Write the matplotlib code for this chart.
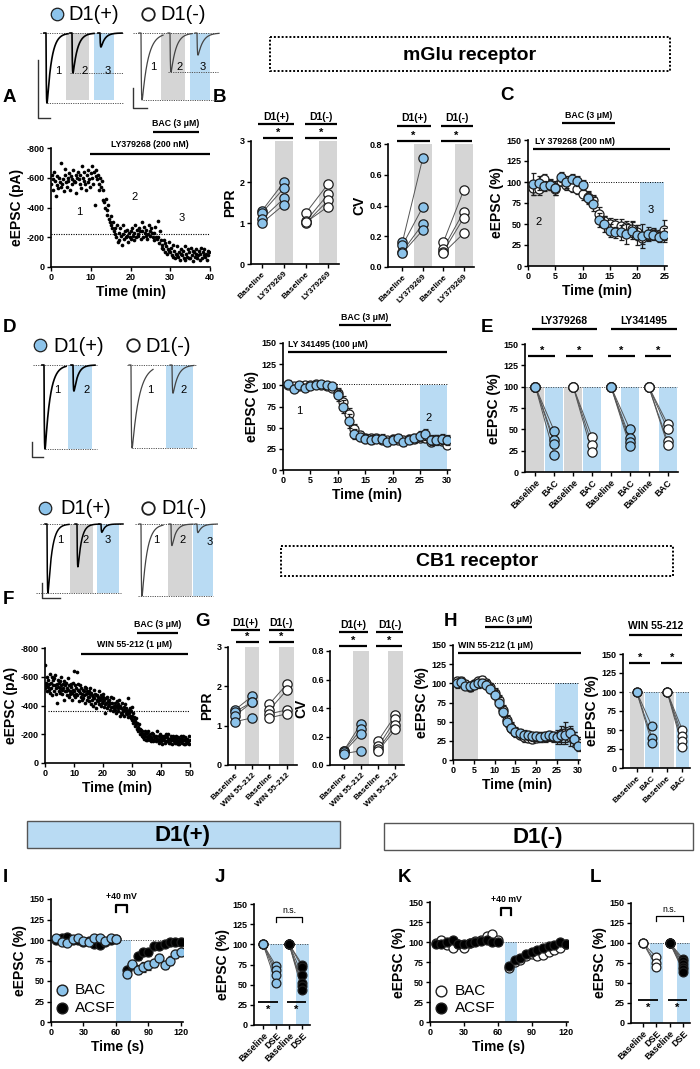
import numpy as np
import matplotlib
matplotlib.use("Agg")
import matplotlib.pyplot as plt
from matplotlib.patches import Rectangle

plt.rcParams['font.family'] = ['Liberation Sans', 'DejaVu Sans']
plt.rcParams['font.weight'] = 'bold'
plt.rcParams['axes.labelweight'] = 'bold'
plt.rcParams['axes.unicode_minus'] = False

BLUE = '#8cc3ea'
BAND_BLUE = '#b9dbf3'
BAND_GRAY = '#d5d5d5'
EDGE = '#1e1e1e'

# ======================= DATA =======================
# Panel A: eEPSC amplitude (pA), 5 samples per minute
A_step = 0.2
A_amp = [560, 620, 590, 520, 640, 580, 480, 550, 610, 530, 600, 570, 700, 540, 560,
         590, 510, 620, 660, 570, 540, 600, 580, 630, 520, 610, 560, 590, 650, 580,
         570, 620, 500, 600, 640, 590, 560, 620, 530, 680, 600, 580, 640, 560, 520,
         620, 570, 650, 590, 540, 630, 680, 600, 560, 640, 420, 610, 650, 590, 620,
         560, 520, 600, 540, 580, 450, 520, 440, 400, 460, 380, 350, 420, 320, 300,
         280, 340, 260, 300, 240, 260, 220, 200, 280, 170, 230, 180, 260, 210, 150,
         220, 280, 190, 240, 200, 250, 210, 170, 230, 200, 190, 240, 260, 210, 180,
         230, 280, 200, 250, 220, 210, 260, 240, 190, 300, 240, 200, 270, 230, 210,
         250, 190, 220, 280, 240, 210, 260, 230, 200, 180, 230, 270, 200, 190, 310,
         200, 160, 240, 180, 130, 150, 120, 180, 100, 160, 140, 90, 120, 170, 110,
         100, 130, 80, 150, 70, 110, 60, 90, 140, 80, 70, 100, 50, 120, 90,
         80, 110, 60, 140, 50, 90, 70, 120, 60, 100, 60, 130, 80, 40, 110,
         100, 70, 90, 120, 60, 80, 110, 50, 90, 130, 60, 100, 80, 120, 70,
         90, 50, 110, 80, 100]
A_dotted = 220

# Panel B: PPR and CV
B_cats = ['Baseline', 'LY379269', 'Baseline', 'LY379269']
B_ppr_pos_base = [1.30, 1.25, 1.10, 1.00]
B_ppr_pos_ly = [2.00, 1.85, 1.60, 1.45]
B_ppr_neg_base = [1.25, 1.05, 1.00, 1.02]
B_ppr_neg_ly = [1.95, 1.70, 1.55, 1.40]
B_cv_pos_base = [0.16, 0.14, 0.10, 0.09]
B_cv_pos_ly = [0.71, 0.39, 0.28, 0.24]
B_cv_neg_base = [0.16, 0.12, 0.10, 0.09]
B_cv_neg_ly = [0.50, 0.36, 0.32, 0.22]

# Panel C: time course (%)
C_time = list(range(1, 26))
C_pos = [98, 99, 95, 97, 93, 106, 100, 104, 101, 96, 81, 74, 55, 50, 42, 40, 40, 38, 42, 37, 36, 38, 37, 35, 37]
C_pos_err = [13, 8, 6, 7, 8, 6, 7, 5, 6, 6, 7, 8, 8, 9, 8, 7, 9, 12, 10, 12, 14, 8, 6, 6, 8]
C_neg = [93, 92, 103, 96, 92, 101, 96, 94, 92, 86, 82, 78, 62, 53, 50, 49, 48, 46, 44, 40, 33, 37, 39, 37, 43]
C_neg_err = [8, 7, 6, 6, 7, 6, 6, 6, 6, 7, 7, 7, 8, 7, 7, 7, 8, 8, 9, 9, 7, 6, 6, 6, 12]

# Panel D: time course (%)
D_time = list(range(1, 31))
D_pos = [102, 96, 100, 97, 99, 100, 102, 100, 99, 88, 75, 58, 43, 39, 37, 36, 37, 37, 33, 36,
         38, 33, 36, 38, 40, 42, 35, 35, 37, 35]
D_pos_err = [4, 4, 3, 4, 3, 3, 3, 3, 4, 6, 8, 8, 6, 5, 5, 5, 4, 5, 5, 5, 5, 5, 5, 5, 6, 6, 6, 6, 6, 6]
D_neg = [100, 99, 99, 100, 100, 101, 100, 99, 97, 91, 80, 66, 48, 41, 38, 38, 38, 36, 35, 37,
         36, 36, 37, 37, 38, 38, 33, 36, 34, 30]
D_neg_err = [3, 3, 3, 3, 3, 3, 3, 3, 4, 6, 7, 7, 6, 5, 5, 4, 4, 4, 4, 4, 4, 4, 4, 5, 5, 5, 5, 5, 5, 4]

# Panel E: paired (%)
E_cats = ['Baseline', 'BAC'] * 4
E_groups = ['LY379268', 'LY341495']
E_ly379_pos = [48, 37, 33, 20]
E_ly379_neg = [41, 32, 23]
E_ly341_pos = [50, 40, 35, 30]
E_ly341_neg = [56, 50, 36, 32]

# Panel F: eEPSC amplitude (pA), 6 samples per minute
F_step = 1.0 / 6
F_amp = [680, 520, 560, 540, 500, 600, 530, 580, 510, 550, 490, 620, 560, 520, 600, 470, 540, 580,
         500, 590, 540, 610, 520, 480, 550, 420, 530, 580, 500, 560, 520, 570, 490, 540, 600, 510,
         480, 550, 520, 440, 570, 500, 540, 500, 560, 470, 520, 590, 510, 460, 540, 500, 480, 550,
         530, 490, 440, 560, 510, 470, 640, 500, 540, 460, 520, 480, 630, 470, 510, 550, 430, 500,
         490, 540, 460, 520, 480, 440, 510, 450, 500, 470, 530, 420, 480, 520, 440, 500, 460, 490,
         460, 500, 430, 480, 520, 410, 490, 440, 470, 400, 460, 510, 450, 480, 420, 470, 380, 440,
         470, 430, 460, 500, 410, 450, 440, 400, 470, 420, 450, 480, 430, 460, 390, 440, 410, 350,
         450, 420, 380, 460, 400, 430, 410, 440, 370, 420, 390, 460, 390, 420, 450, 360, 400, 380,
         420, 370, 400, 350, 430, 390, 380, 410, 360, 440, 390, 330, 400, 350, 380, 420, 340, 370,
         360, 390, 330, 410, 370, 350, 380, 340, 360, 450, 320, 370, 350, 380, 330, 360, 310, 390,
         330, 300, 350, 280, 320, 300, 290, 260, 310, 270, 240, 280, 250, 220, 270, 230, 200, 240,
         210, 230, 190, 220, 180, 200, 200, 170, 220, 190, 160, 210, 180, 210, 160, 190, 220, 170,
         190, 160, 200, 150, 180, 210, 170, 200, 150, 190, 160, 180, 180, 150, 190, 170, 220, 160,
         160, 190, 140, 180, 200, 170, 170, 150, 190, 130, 180, 160, 190, 160, 140, 180, 150, 200,
         150, 180, 160, 200, 140, 170, 170, 140, 190, 160, 180, 130, 160, 190, 150, 170, 140, 180,
         140, 170, 190, 150, 160, 130, 180, 150, 130, 170, 160, 190, 150, 170, 140, 160, 190, 130,
         160, 130, 180, 150, 170, 140, 170, 150, 140, 190, 130, 160]
F_dotted = 365

# Panel G: PPR and CV
G_cats = ['Baseline', 'WIN 55-212', 'Baseline', 'WIN 55-212']
G_ppr_pos_base = [1.40, 1.35, 1.25, 1.10]
G_ppr_pos_win = [1.75, 1.60, 1.60, 1.20]
G_ppr_neg_base = [1.55, 1.40, 1.30, 1.20]
G_ppr_neg_win = [2.05, 1.90, 1.40, 1.30]
G_cv_pos_base = [0.10, 0.10, 0.09, 0.08]
G_cv_pos_win = [0.29, 0.25, 0.22, 0.10]
G_cv_neg_base = [0.17, 0.13, 0.11, 0.10]
G_cv_neg_win = [0.35, 0.32, 0.28, 0.25]

# Panel H: time course (%) and paired
H_time = list(range(1, 31))
H_pos = [100, 102, 97, 96, 98, 100, 101, 98, 93, 85, 75, 63, 50, 42, 37, 35, 33, 32, 31, 31,
         30, 31, 32, 31, 30, 32, 33, 35, 28, 18]
H_pos_err = [6, 5, 5, 6, 6, 6, 5, 6, 6, 6, 7, 7, 7, 6, 6, 6, 6, 6, 6, 6, 6, 6, 6, 6, 7, 9, 10, 9, 8, 6]
H_neg = [103, 103, 99, 95, 99, 103, 104, 100, 95, 88, 78, 65, 52, 42, 36, 33, 30, 29, 28, 29,
         30, 30, 31, 30, 30, 33, 35, 30, 27, 22]
H_neg_err = [5, 5, 5, 5, 5, 5, 6, 6, 6, 6, 7, 7, 7, 7, 6, 6, 6, 6, 6, 6, 6, 6, 6, 7, 9, 12, 14, 12, 10, 8]
H_cats = ['Baseline', 'BAC', 'Baseline', 'BAC']
H_win_pos = [55, 40, 33]
H_win_neg = [50, 42, 35, 28]

# Panels I, K: DSE time course (%)
IK_time = [5, 10, 15, 20, 25, 30, 35, 40, 45, 50, 55, 60, 70, 75, 80, 85, 90, 95, 100, 105, 110, 115, 120]
I_bac = [102, 98, 96, 101, 102, 99, 97, 103, 103, 99, 102, 101, 58, 71, 64, 67, 69, 72, 78, 70, 75, 83, 85]
I_bac_err = [2, 2, 2, 2, 2, 2, 2, 2, 2, 2, 2, 2, 4, 5, 5, 6, 6, 5, 5, 5, 5, 5, 5]
I_acsf = [100, 103, 104, 100, 100, 98, 99, 95, 94, 97, 100, 101, 64, 70, 80, 85, 85, 93, 93, 95, 97, 97, 98]
I_acsf_err = [2, 2, 2, 2, 2, 2, 2, 2, 2, 2, 2, 2, 4, 4, 4, 4, 4, 4, 4, 4, 4, 4, 4]
K_bac = [99, 103, 96, 93, 98, 93, 99, 101, 103, 108, 110, 103, 67, 75, 78, 83, 85, 83, 84, 88, 90, 93, 97]
K_acsf = [97, 98, 100, 102, 98, 97, 99, 100, 101, 103, 100, 100, 70, 78, 80, 85, 88, 90, 92, 95, 96, 100, 97]
K_err = [2, 2, 2, 2, 2, 2, 2, 2, 2, 2, 2, 2, 3, 3, 3, 3, 3, 3, 3, 3, 3, 3, 3]

# Panels J, L: paired DSE (%)
JL_cats = ['Baseline', 'DSE', 'Baseline', 'DSE']
J_bac = [73, 68, 62, 52]
J_acsf = [75, 72, 62, 52, 48, 43]
L_bac = [82, 75, 70]
L_acsf = [80, 77, 74, 70, 67, 64]

# Example traces: relative peak amplitudes of averaged EPSCs (1, 2, 3)
TR_mglu_pos = [1.00, 0.57, 0.20]
TR_mglu_neg = [1.00, 0.58, 0.33]
TR_ly341_pos = [1.00, 0.31]
TR_ly341_neg = [1.00, 0.34]
TR_cb1_pos = [1.00, 0.62, 0.12]
TR_cb1_neg = [1.00, 0.30, 0.12]

# ======================= FIGURE =======================
W, H = 700, 1069
fig = plt.figure(figsize=(W / 100, H / 100), dpi=100)

ov = fig.add_axes([0, 0, 1, 1])
ov.set_xlim(0, W)
ov.set_ylim(H, 0)
ov.axis('off')


def axpx(l, t, r, b):
    ax = fig.add_axes([l / W, 1 - b / H, (r - l) / W, (b - t) / H])
    ax.set_facecolor('none')
    for s in ('top', 'right'):
        ax.spines[s].set_visible(False)
    for s in ('left', 'bottom'):
        ax.spines[s].set_linewidth(1.2)
    ax.tick_params(direction='out', length=3, width=1.0, labelsize=6.5, pad=1.5)
    return ax


def timecourse(ax, t, v, e, face, z):
    ax.errorbar(t, v, yerr=e, fmt='none', ecolor=EDGE, elinewidth=0.9, capsize=1.8,
                capthick=0.9, zorder=z)
    ax.scatter(t, v, s=42, facecolor=face, edgecolor=EDGE, linewidth=0.9, zorder=z + 0.5)


def paired(ax, x0, x1, base, post, face, s=45):
    for b, p in zip(base, post):
        ax.plot([x0, x1], [b, p], color='#555555', lw=0.7, zorder=3)
    ax.scatter([x0] * len(base), base, s=s, facecolor=face, edgecolor=EDGE, lw=0.9, zorder=4,
               clip_on=False)
    ax.scatter([x1] * len(post), post, s=s, facecolor=face, edgecolor=EDGE, lw=0.9, zorder=4,
               clip_on=False)


def sigbar(ax, xa, xb, y, dy, star_below=False, lw=1.6):
    ax.plot([xa, xb], [y, y], color='k', lw=lw, clip_on=False, solid_capstyle='butt')
    if star_below:
        ax.text((xa + xb) / 2, y - dy, '*', ha='center', va='top', fontsize=8, clip_on=False)
    else:
        ax.text((xa + xb) / 2, y + dy * 0.1, '*', ha='center', va='bottom', fontsize=8,
                clip_on=False)


def header(ax, xa, xb, y_line, y_text, txt, fs=7.5):
    ax.plot([xa, xb], [y_line, y_line], color='k', lw=1.6, clip_on=False, solid_capstyle='butt')
    ax.text((xa + xb) / 2, y_text, txt, ha='center', va='bottom', fontsize=fs, clip_on=False)


def drugbar(ax, xa, xb, y, txt, ytxt, ha='center', xt=None):
    ax.plot([xa, xb], [y, y], color='k', lw=1.6, clip_on=False, solid_capstyle='butt')
    ax.text((xa + xb) / 2 if xt is None else xt, ytxt, txt, ha=ha, va='bottom', fontsize=6.3,
            clip_on=False)


def cat_axis(ax, cats, fs=6.0):
    ax.set_xticks(range(len(cats)))
    ax.set_xticklabels(cats, rotation=45, ha='right', rotation_mode='anchor', fontsize=fs)


def epsc(tt, tau_r, tau_d):
    y = np.exp(-tt / tau_d) - np.exp(-tt / tau_r)
    return y / y.max()


def trace_group(box, base_px, peak_px, starts, amps, taus, bands, dotted, labels, sbar, color, lw):
    l, t, r, b = box
    ax = fig.add_axes([l / W, 1 - b / H, (r - l) / W, (b - t) / H])
    ax.axis('off')
    sc = float(peak_px - base_px)
    ax.set_xlim(l, r)
    ax.set_ylim(-(b - base_px) / sc, (base_px - t) / sc)
    for (x0, x1, c, ybot) in bands:
        ax.add_patch(Rectangle((x0, -(ybot - base_px) / sc), x1 - x0, (ybot - base_px) / sc,
                               facecolor=c, edgecolor='none', zorder=1))
    for (x0, x1, ypx) in dotted:
        lev = -(ypx - base_px) / sc
        ax.plot([x0, x1], [lev, lev], ls=(0, (1.2, 1.2)), color='#555555', lw=0.7, zorder=2)
    for x0, a, tau in zip(starts, amps, taus):
        tt = np.linspace(0, 22, 300)
        y = -a * epsc(tt, 0.35, tau)
        ax.plot(np.concatenate([[x0 - 2], x0 + tt]), np.concatenate([[0], y]),
                color=color, lw=lw, zorder=3)
    for (x, ypx, s) in labels:
        ax.text(x, -(ypx - base_px) / sc, s, fontsize=8, fontweight='normal',
                ha='center', va='center', zorder=4)
    if sbar is not None:
        xs, y0, y1, x1 = sbar
        ax.plot([xs, xs, x1], [-(y0 - base_px) / sc, -(y1 - base_px) / sc, -(y1 - base_px) / sc],
                color='#333333', lw=1.0)
    return ax


# ---------------- overlay: legends, letters, boxes ----------------
def legend_pair(y, xb, xtb, xo, xto):
    ov.plot(xb, y, 'o', ms=9, mfc=BLUE, mec=EDGE, mew=0.9)
    ov.text(xtb, y + 1, 'D1(+)', fontsize=14.5, fontweight='normal', va='center', ha='left')
    ov.plot(xo, y, 'o', ms=9, mfc='white', mec=EDGE, mew=1.3)
    ov.text(xto, y + 1, 'D1(-)', fontsize=14.5, fontweight='normal', va='center', ha='left')


legend_pair(14, 57, 68, 148, 160)
legend_pair(345, 40, 53, 133, 145)
legend_pair(508, 45, 60, 148, 161)

for lt, (x, y) in {'A': (3, 97), 'B': (213, 97), 'C': (500, 95), 'D': (3, 328), 'E': (481, 328),
                   'F': (3, 600), 'G': (195, 622), 'H': (444, 622), 'I': (3, 877), 'J': (215, 877),
                   'K': (398, 877), 'L': (590, 877)}.items():
    ov.text(x, y, lt, fontsize=13.5, fontweight='bold', va='center', ha='left')

ov.add_patch(Rectangle((270, 37), 400, 34, fill=False, lw=1.4, ls=(0, (1, 1)), edgecolor='k'))
ov.text(470, 55, 'mGlu receptor', fontsize=14, ha='center', va='center')
ov.add_patch(Rectangle((281, 546), 392, 30, fill=False, lw=1.4, ls=(0, (1, 1)), edgecolor='k'))
ov.text(477, 562, 'CB1 receptor', fontsize=14, ha='center', va='center')
ov.add_patch(Rectangle((27, 821), 313, 27, facecolor=BAND_BLUE, lw=1.0, edgecolor='#555555'))
ov.text(183, 835, 'D1(+)', fontsize=16, ha='center', va='center')
ov.add_patch(Rectangle((384, 823), 309, 27, facecolor='white', lw=1.0, edgecolor='#555555'))
ov.text(538, 837, 'D1(-)', fontsize=16, ha='center', va='center')

# ---------------- example traces ----------------
trace_group((30, 25, 126, 122), 33, 103, [46, 72, 100], TR_mglu_pos, [4.5, 4.5, 4.0],
            [(66, 89, BAND_GRAY, 100), (94, 114, BAND_BLUE, 100)],
            [(40, 123, 33), (70, 123, 73), (47, 123, 103)],
            [(58, 71, '1'), (85, 71, '2'), (108, 71, '3')], (38, 60, 118, 50), 'black', 1.2)
trace_group((126, 25, 222, 122), 33, 100, [141, 170, 197], TR_mglu_neg, [6, 5, 5],
            [(161, 185, BAND_GRAY, 100), (190, 210, BAND_BLUE, 100)],
            [(133, 218, 33), (168, 218, 72), (143, 218, 100)],
            [(153, 67, '1'), (180, 67, '2'), (203, 67, '3')], (133, 88, 108, 147), '#444444', 0.9)
trace_group((28, 358, 100, 460), 365, 449, [44, 73], TR_ly341_pos, [5, 4],
            [(68, 92, BAND_BLUE, 449)], [(33, 97, 365), (45, 97, 449)],
            [(57, 390, '1'), (87, 390, '2')], (32, 442, 457, 43), 'black', 1.2)
trace_group((120, 358, 200, 460), 365, 448, [131, 172], TR_ly341_neg, [7, 5],
            [(166, 193, BAND_BLUE, 448)], [(127, 197, 365), (132, 197, 448)],
            [(150, 390, '1'), (184, 390, '2')], None, '#444444', 0.9)
trace_group((28, 518, 125, 602), 524, 593, [47, 77, 101], TR_cb1_pos, [4, 3.5, 3],
            [(70, 93, BAND_GRAY, 593), (97, 119, BAND_BLUE, 593)],
            [(40, 121, 524), (36, 121, 593)],
            [(60, 540, '1'), (86, 540, '2'), (108, 540, '3')], (42, 583, 598, 60), 'black', 1.1)
trace_group((125, 518, 218, 602), 524, 596, [141, 171, 197], TR_cb1_neg, [5, 4, 4],
            [(168, 192, BAND_GRAY, 596), (193, 213, BAND_BLUE, 596)],
            [(135, 215, 524), (138, 213, 596)],
            [(156, 540, '1'), (183, 540, '2'), (210, 542, '3')], None, '#444444', 0.9)

# ---------------- Panel A ----------------
axA = axpx(51, 148, 210, 267)
A_time = np.arange(len(A_amp)) * A_step
axA.scatter(A_time, -np.array(A_amp), s=7, color='black', linewidths=0, zorder=3)
axA.set_xlim(0, 40)
axA.set_ylim(0, -800)
axA.set_yticks([0, -200, -400, -600, -800])
axA.set_xticks([0, 10, 20, 30, 40])
axA.hlines(-A_dotted, 0, 40, colors='k', linestyles=(0, (1, 1.2)), lw=0.8)
axA.set_ylabel('eEPSC (pA)', fontsize=10, labelpad=2)
axA.set_xlabel('Time (min)', fontsize=10, labelpad=2)
drugbar(axA, 9.8, 40, -759, 'LY379268 (200 nM)', -790)
drugbar(axA, 25.7, 37.2, -907, 'BAC (3 μM)', -935)
for x, y, s in [(7, -370, '1'), (21, -470, '2'), (33, -330, '3')]:
    axA.text(x, y, s, fontsize=8, fontweight='normal', ha='center', va='center')

# ---------------- Panel B ----------------
def ppr_cv(box_ppr, box_cv, cats, ppr, cv, xl_ppr, xl_cv, y_hdr_ppr, y_hdr_cv):
    axp = axpx(*box_ppr)
    for x in (1, 3):
        axp.axvspan(x - 0.42, x + 0.42, color=BAND_GRAY, lw=0, zorder=0)
    paired(axp, 0, 1, ppr[0], ppr[1], BLUE)
    paired(axp, 2, 3, ppr[2], ppr[3], 'white')
    axp.set_xlim(*xl_ppr)
    axp.set_ylim(0, 3)
    axp.set_yticks([0, 1, 2, 3])
    axp.set_ylabel('PPR', fontsize=10, labelpad=2)
    cat_axis(axp, cats)
    h = y_hdr_ppr
    sigbar(axp, 0.05, 1.42, h[0], 0.02)
    sigbar(axp, 1.95, 3.42, h[0], 0.02)
    header(axp, -0.2, 1.45, h[1], h[2], 'D1(+)')
    header(axp, 1.95, 3.42, h[1], h[2], 'D1(-)')

    axc = axpx(*box_cv)
    for x in (1, 3):
        axc.axvspan(x - 0.44, x + 0.44, color=BAND_GRAY, lw=0, zorder=0)
    paired(axc, 0, 1, cv[0], cv[1], BLUE)
    paired(axc, 2, 3, cv[2], cv[3], 'white')
    axc.set_xlim(*xl_cv)
    axc.set_ylim(0, 0.8)
    axc.set_yticks([0, 0.2, 0.4, 0.6, 0.8])
    axc.set_yticklabels(['0.0', '0.2', '0.4', '0.6', '0.8'])
    axc.set_ylabel('CV', fontsize=10, labelpad=2)
    cat_axis(axc, cats)
    h = y_hdr_cv
    sigbar(axc, -0.25, 1.35, h[0], 0.01)
    sigbar(axc, 1.9, 3.4, h[0], 0.01)
    header(axc, -0.25, 1.4, h[1], h[2], 'D1(+)')
    header(axc, 1.9, 3.45, h[1], h[2], 'D1(-)')


ppr_cv((251, 141, 339, 264), (388, 144, 474, 267), B_cats,
       (B_ppr_pos_base, B_ppr_pos_ly, B_ppr_neg_base, B_ppr_neg_ly),
       (B_cv_pos_base, B_cv_pos_ly, B_cv_neg_base, B_cv_neg_ly),
       (-0.5, 3.5), (-0.7, 3.5), (3.07, 3.41, 3.47), (0.82, 0.92, 0.935))

# ---------------- Panel C ----------------
axC = axpx(528, 140, 667, 266)
axC.axvspan(0, 5, ymax=100 / 150, color=BAND_GRAY, lw=0, zorder=0)
axC.axvspan(20.5, 25, ymax=100 / 150, color=BAND_BLUE, lw=0, zorder=0)
axC.hlines(100, 0, 25, colors='k', linestyles=(0, (1, 1.5)), lw=0.7, zorder=1)
timecourse(axC, C_time, C_neg, C_neg_err, 'white', 3)
timecourse(axC, C_time, C_pos, C_pos_err, BLUE, 5)
axC.set_xlim(0, 25.5)
axC.set_ylim(0, 150)
axC.set_xticks([0, 5, 10, 15, 20, 25])
axC.set_yticks([0, 25, 50, 75, 100, 125, 150])
axC.set_ylabel('eEPSC (%)', fontsize=10, labelpad=2)
axC.set_xlabel('Time (min)', fontsize=10, labelpad=2)
drugbar(axC, 1, 26, 139, 'LY 379268 (200 nM)', 143, ha='left', xt=1.3)
drugbar(axC, 6.3, 16, 170, 'BAC (3 μM)', 174)
axC.text(2, 52, '2', fontsize=8, fontweight='normal', ha='center', va='center')
axC.text(22.5, 67, '3', fontsize=8, fontweight='normal', ha='center', va='center')

# ---------------- Panel D ----------------
axD = axpx(283, 343, 450, 470)
axD.axvspan(25, 30, ymax=100 / 150, color=BAND_BLUE, lw=0, zorder=0)
axD.hlines(102, 0, 30, colors='k', linestyles=(0, (1, 1.5)), lw=0.7, zorder=1)
timecourse(axD, D_time, D_neg, D_neg_err, 'white', 3)
timecourse(axD, D_time, D_pos, D_pos_err, BLUE, 5)
axD.set_xlim(0, 30.5)
axD.set_ylim(0, 150)
axD.set_xticks([0, 5, 10, 15, 20, 25, 30])
axD.set_yticks([0, 25, 50, 75, 100, 125, 150])
axD.set_ylabel('eEPSC (%)', fontsize=10, labelpad=2)
axD.set_xlabel('Time (min)', fontsize=10, labelpad=2)
drugbar(axD, 1, 30, 139, 'LY 341495 (100 μM)', 143, ha='left', xt=1.0)
drugbar(axD, 10.2, 19.8, 171, 'BAC (3 μM)', 175)
axD.text(3, 70, '1', fontsize=8, fontweight='normal', ha='center', va='center')
axD.text(26.5, 62, '2', fontsize=8, fontweight='normal', ha='center', va='center')

# ---------------- Panel E ----------------
axE = axpx(525, 344, 678, 472)
axE.bar([0, 2], [100, 100], width=0.95, color=BAND_GRAY, zorder=0)
axE.bar([1, 3, 5, 7], [100] * 4, width=0.95, color=BAND_BLUE, zorder=0)
axE.hlines(100, -0.5, 7.5, colors='#444444', linestyles=(0, (1, 1.5)), lw=0.7, zorder=1)
paired(axE, 0, 1, [100] * len(E_ly379_pos), E_ly379_pos, BLUE)
paired(axE, 2, 3, [100] * len(E_ly379_neg), E_ly379_neg, 'white')
paired(axE, 4, 5, [100] * len(E_ly341_pos), E_ly341_pos, BLUE)
paired(axE, 6, 7, [100] * len(E_ly341_neg), E_ly341_neg, 'white')
axE.set_xlim(-0.55, 7.55)
axE.set_ylim(0, 150)
axE.set_yticks([0, 25, 50, 75, 100, 125, 150])
axE.set_ylabel('eEPSC (%)', fontsize=10, labelpad=2)
cat_axis(axE, E_cats, fs=6.5)
for xa, xb in [(-0.37, 1.05), (1.6, 3.05), (3.84, 5.26), (5.8, 7.2)]:
    sigbar(axE, xa, xb, 136, 1)
header(axE, -0.2, 3.25, 167, 171, E_groups[0], fs=7.5)
header(axE, 4.0, 7.5, 167, 171, E_groups[1], fs=7.5)

# ---------------- Panel F ----------------
axF = axpx(45, 648, 190, 763)
F_time = np.arange(len(F_amp)) * F_step
axF.scatter(F_time, -np.array(F_amp), s=7, color='black', linewidths=0, zorder=3)
axF.set_xlim(0, 50)
axF.set_ylim(0, -800)
axF.set_yticks([0, -200, -400, -600, -800])
axF.set_xticks([0, 10, 20, 30, 40, 50])
axF.hlines(-F_dotted, 1, 50, colors='k', linestyles=(0, (1, 1.2)), lw=0.8)
axF.set_ylabel('eEPSC (pA)', fontsize=10, labelpad=2)
axF.set_xlabel('Time (min)', fontsize=10, labelpad=2)
drugbar(axF, 12.4, 49.3, -758, 'WIN 55-212 (1 μM)', -790)
drugbar(axF, 31.7, 45.9, -904, 'BAC (3 μM)', -935)

# ---------------- Panel G ----------------
ppr_cv((228, 647, 297, 765), (330, 651, 404, 765), G_cats,
       (G_ppr_pos_base, G_ppr_pos_win, G_ppr_neg_base, G_ppr_neg_win),
       (G_cv_pos_base, G_cv_pos_win, G_cv_neg_base, G_cv_neg_win),
       (-0.4, 3.6), (-0.8, 3.5), (3.13, 3.43, 3.49), (0.835, 0.93, 0.945))

# ---------------- Panel H ----------------
axH = axpx(453, 645, 580, 760)
axH.axvspan(0, 6, ymax=100 / 150, color=BAND_GRAY, lw=0, zorder=0)
axH.axvspan(24.5, 30, ymax=100 / 150, color=BAND_BLUE, lw=0, zorder=0)
axH.hlines(100, 0, 30, colors='k', linestyles=(0, (1, 1.5)), lw=0.7, zorder=1)
timecourse(axH, H_time, H_neg, H_neg_err, 'white', 3)
timecourse(axH, H_time, H_pos, H_pos_err, BLUE, 5)
axH.set_xlim(0, 30.5)
axH.set_ylim(0, 150)
axH.set_xticks([0, 5, 10, 15, 20, 25, 30])
axH.set_yticks([0, 25, 50, 75, 100, 125, 150])
axH.set_ylabel('eEPSC (%)', fontsize=10, labelpad=2)
axH.set_xlabel('Time (min)', fontsize=10, labelpad=2)
drugbar(axH, 1.2, 30.7, 139, 'WIN 55-212 (1 μM)', 143, ha='left', xt=1.2)
drugbar(axH, 7.8, 18.9, 173, 'BAC (3 μM)', 177)

axH2 = axpx(623, 654, 690, 768)
axH2.bar([0, 2], [100, 100], width=0.9, color=BAND_GRAY, zorder=0)
axH2.bar([1, 3], [100, 100], width=0.9, color=BAND_BLUE, zorder=0)
axH2.hlines(100, -0.5, 3.5, colors='#444444', linestyles=(0, (1, 1.5)), lw=0.7, zorder=1)
paired(axH2, 0, 1, [100] * len(H_win_pos), H_win_pos, BLUE, s=40)
paired(axH2, 2, 3, [100] * len(H_win_neg), H_win_neg, 'white', s=40)
axH2.set_xlim(-0.9, 3.5)
axH2.set_ylim(0, 150)
axH2.set_yticks([0, 25, 50, 75, 100, 125, 150])
axH2.set_ylabel('eEPSC (%)', fontsize=10, labelpad=2)
cat_axis(axH2, H_cats)
sigbar(axH2, -0.5, 0.9, 138, 1)
sigbar(axH2, 1.6, 3.0, 138, 1)
header(axH2, -0.5, 3.0, 175, 180, 'WIN 55-212', fs=7.5)

# ---------------- Panels I, K ----------------
def dse_time(box, bac, bac_err, acsf, acsf_err, bac_face, band, bracket, acsf_top):
    ax = axpx(*box)
    ax.axvspan(band[0], band[1], ymax=100 / 150, color=BAND_BLUE, lw=0, zorder=0)
    ax.hlines(100, 60, 120, colors='#444444', linestyles=(0, (1, 1.5)), lw=0.7, zorder=1)
    if acsf_top:
        timecourse(ax, IK_time, bac, bac_err, bac_face, 3)
        timecourse(ax, IK_time, acsf, acsf_err, 'black', 5)
    else:
        timecourse(ax, IK_time, acsf, acsf_err, 'black', 3)
        timecourse(ax, IK_time, bac, bac_err, bac_face, 5)
    ax.set_xlim(0, 122)
    ax.set_ylim(0, 150)
    ax.set_xticks([0, 30, 60, 90, 120])
    ax.set_yticks([0, 25, 50, 75, 100, 125, 150])
    ax.set_ylabel('eEPSC (%)', fontsize=10, labelpad=2)
    ax.set_xlabel('Time (s)', fontsize=10, labelpad=2)
    b0, b1 = bracket
    ax.plot([b0, b0, b1, b1], [134, 143, 143, 134], color='k', lw=1.6, clip_on=False)
    ax.text((b0 + b1) / 2, 148, '+40 mV', ha='center', va='bottom', fontsize=6.3, clip_on=False)
    ax.scatter([10], [39], s=60, facecolor=bac_face, edgecolor=EDGE, lw=1.0, clip_on=False)
    ax.scatter([10], [17], s=60, facecolor='black', edgecolor=EDGE, lw=1.0, clip_on=False)
    ax.text(22, 39, 'BAC', fontsize=11, fontweight='normal', va='center')
    ax.text(22, 17, 'ACSF', fontsize=11, fontweight='normal', va='center')
    return ax


dse_time((51, 899, 183, 1022), I_bac, I_bac_err, I_acsf, I_acsf_err, BLUE, (60, 73.5),
         (60, 70), False)
dse_time((430, 902, 568, 1022), K_bac, K_err, K_acsf, K_err, 'white', (66, 77),
         (63, 72), True)

# ---------------- Panels J, L ----------------
def dse_pair(box, bac, acsf, bac_face, xl):
    ax = axpx(*box)
    ax.bar([1, 3], [100, 100], width=1.0, color=BAND_BLUE, zorder=0)
    ax.hlines(100, 0, 3.5, colors='#444444', linestyles=(0, (1, 1.5)), lw=0.7, zorder=1)
    paired(ax, 0, 1, [100] * len(bac), bac, bac_face, s=40)
    paired(ax, 2, 3, [100] * len(acsf), acsf, 'black', s=40)
    ax.set_xlim(*xl)
    ax.set_ylim(0, 150)
    ax.set_yticks([0, 25, 50, 75, 100, 125, 150])
    ax.set_ylabel('eEPSC (%)', fontsize=10, labelpad=2)
    cat_axis(ax, JL_cats, fs=6.5)
    sigbar(ax, -0.38, 1.15, 28.5, 3, star_below=True, lw=1.3)
    sigbar(ax, 1.85, 3.3, 28.5, 3, star_below=True, lw=1.3)
    ax.plot([1, 1, 3, 3], [128, 134, 134, 128], color='k', lw=0.9, clip_on=False)
    ax.text(2, 136, 'n.s.', ha='center', va='bottom', fontsize=6.3, fontweight='normal',
            clip_on=False)
    return ax


dse_pair((254, 904, 310, 1025), J_bac, J_acsf, BLUE, (-0.7, 3.6))
dse_pair((631, 903, 690, 1023), L_bac, L_acsf, 'white', (-0.9, 3.5))

fig.savefig('out.png', dpi=100)
